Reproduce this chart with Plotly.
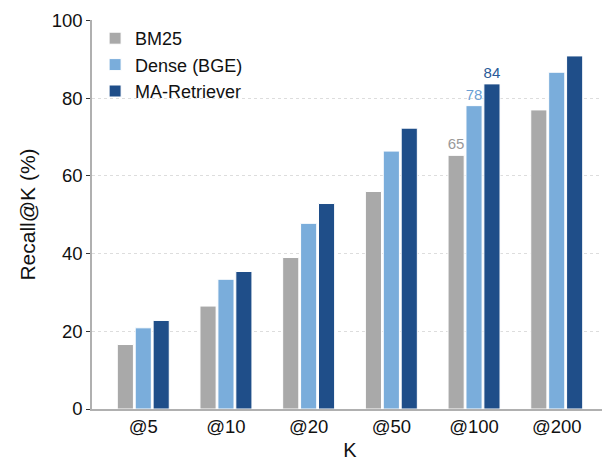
import plotly.graph_objects as go

categories = ["@5", "@10", "@20", "@50", "@100", "@200"]
bm25 = [16.6, 26.5, 39.0, 56.0, 65.3, 77.0]
dense = [20.9, 33.4, 47.8, 66.4, 78.1, 86.7]
ma_retriever = [22.8, 35.4, 52.9, 72.3, 83.7, 90.9]
bm25_labels = ["", "", "", "", "65", ""]
dense_labels = ["", "", "", "", "78", ""]
ma_labels = ["", "", "", "", "84", ""]

series = [
    ("BM25", bm25, bm25_labels, "#a9a9a9", "#999999"),
    ("Dense (BGE)", dense, dense_labels, "#7aaddb", "#6a9fd4"),
    ("MA-Retriever", ma_retriever, ma_labels, "#1f4e89", "#2a5a98"),
]

font_family = "Liberation Sans, Arial, sans-serif"
fig = go.Figure()
for name, vals, labels, color, tcolor in series:
    fig.add_trace(go.Bar(
        x=categories, y=vals, name=name,
        marker=dict(color=color, line=dict(color="white", width=1)),
        text=labels, textposition="outside",
        textfont=dict(color=tcolor, size=15, family=font_family),
        cliponaxis=False,
    ))

fig.update_layout(
    width=602, height=453,
    margin=dict(l=84, r=2, t=8, b=52),
    plot_bgcolor="white", paper_bgcolor="white",
    barmode="group", bargap=0.35, bargroupgap=0.1,
    font=dict(family=font_family, color="#222222"),
    uniformtext=dict(minsize=15, mode="show"),
    showlegend=True,
    legend=dict(x=0.006, y=1.0, xanchor="left", yanchor="top",
                font=dict(size=18, color="#111111"),
                bgcolor="rgba(0,0,0,0)", tracegroupgap=0, itemwidth=30),
    xaxis=dict(
        range=[-0.62, 5.62], showline=True, linecolor="#b0b0b0", linewidth=1.5,
        ticks="", tickfont=dict(size=18.5, color="#111111"),
        title=dict(text="K", font=dict(size=20, color="#111111"), standoff=7),
        showgrid=False,
    ),
    yaxis=dict(
        range=[0, 100.15], tickvals=[0, 20, 40, 60, 80, 100],
        showline=True, linecolor="#b0b0b0", linewidth=1.5,
        ticks="outside", ticklen=4, tickcolor="#333333",
        tickfont=dict(size=18.5, color="#111111"),
        ticklabeloverflow="allow",
        title=dict(text="Recall@K (%)", font=dict(size=21, color="#111111"), standoff=10),
        showgrid=True, gridcolor="#dddddd", griddash="dot", gridwidth=1,
        zeroline=False,
    ),
)

fig.write_html("out.html")
